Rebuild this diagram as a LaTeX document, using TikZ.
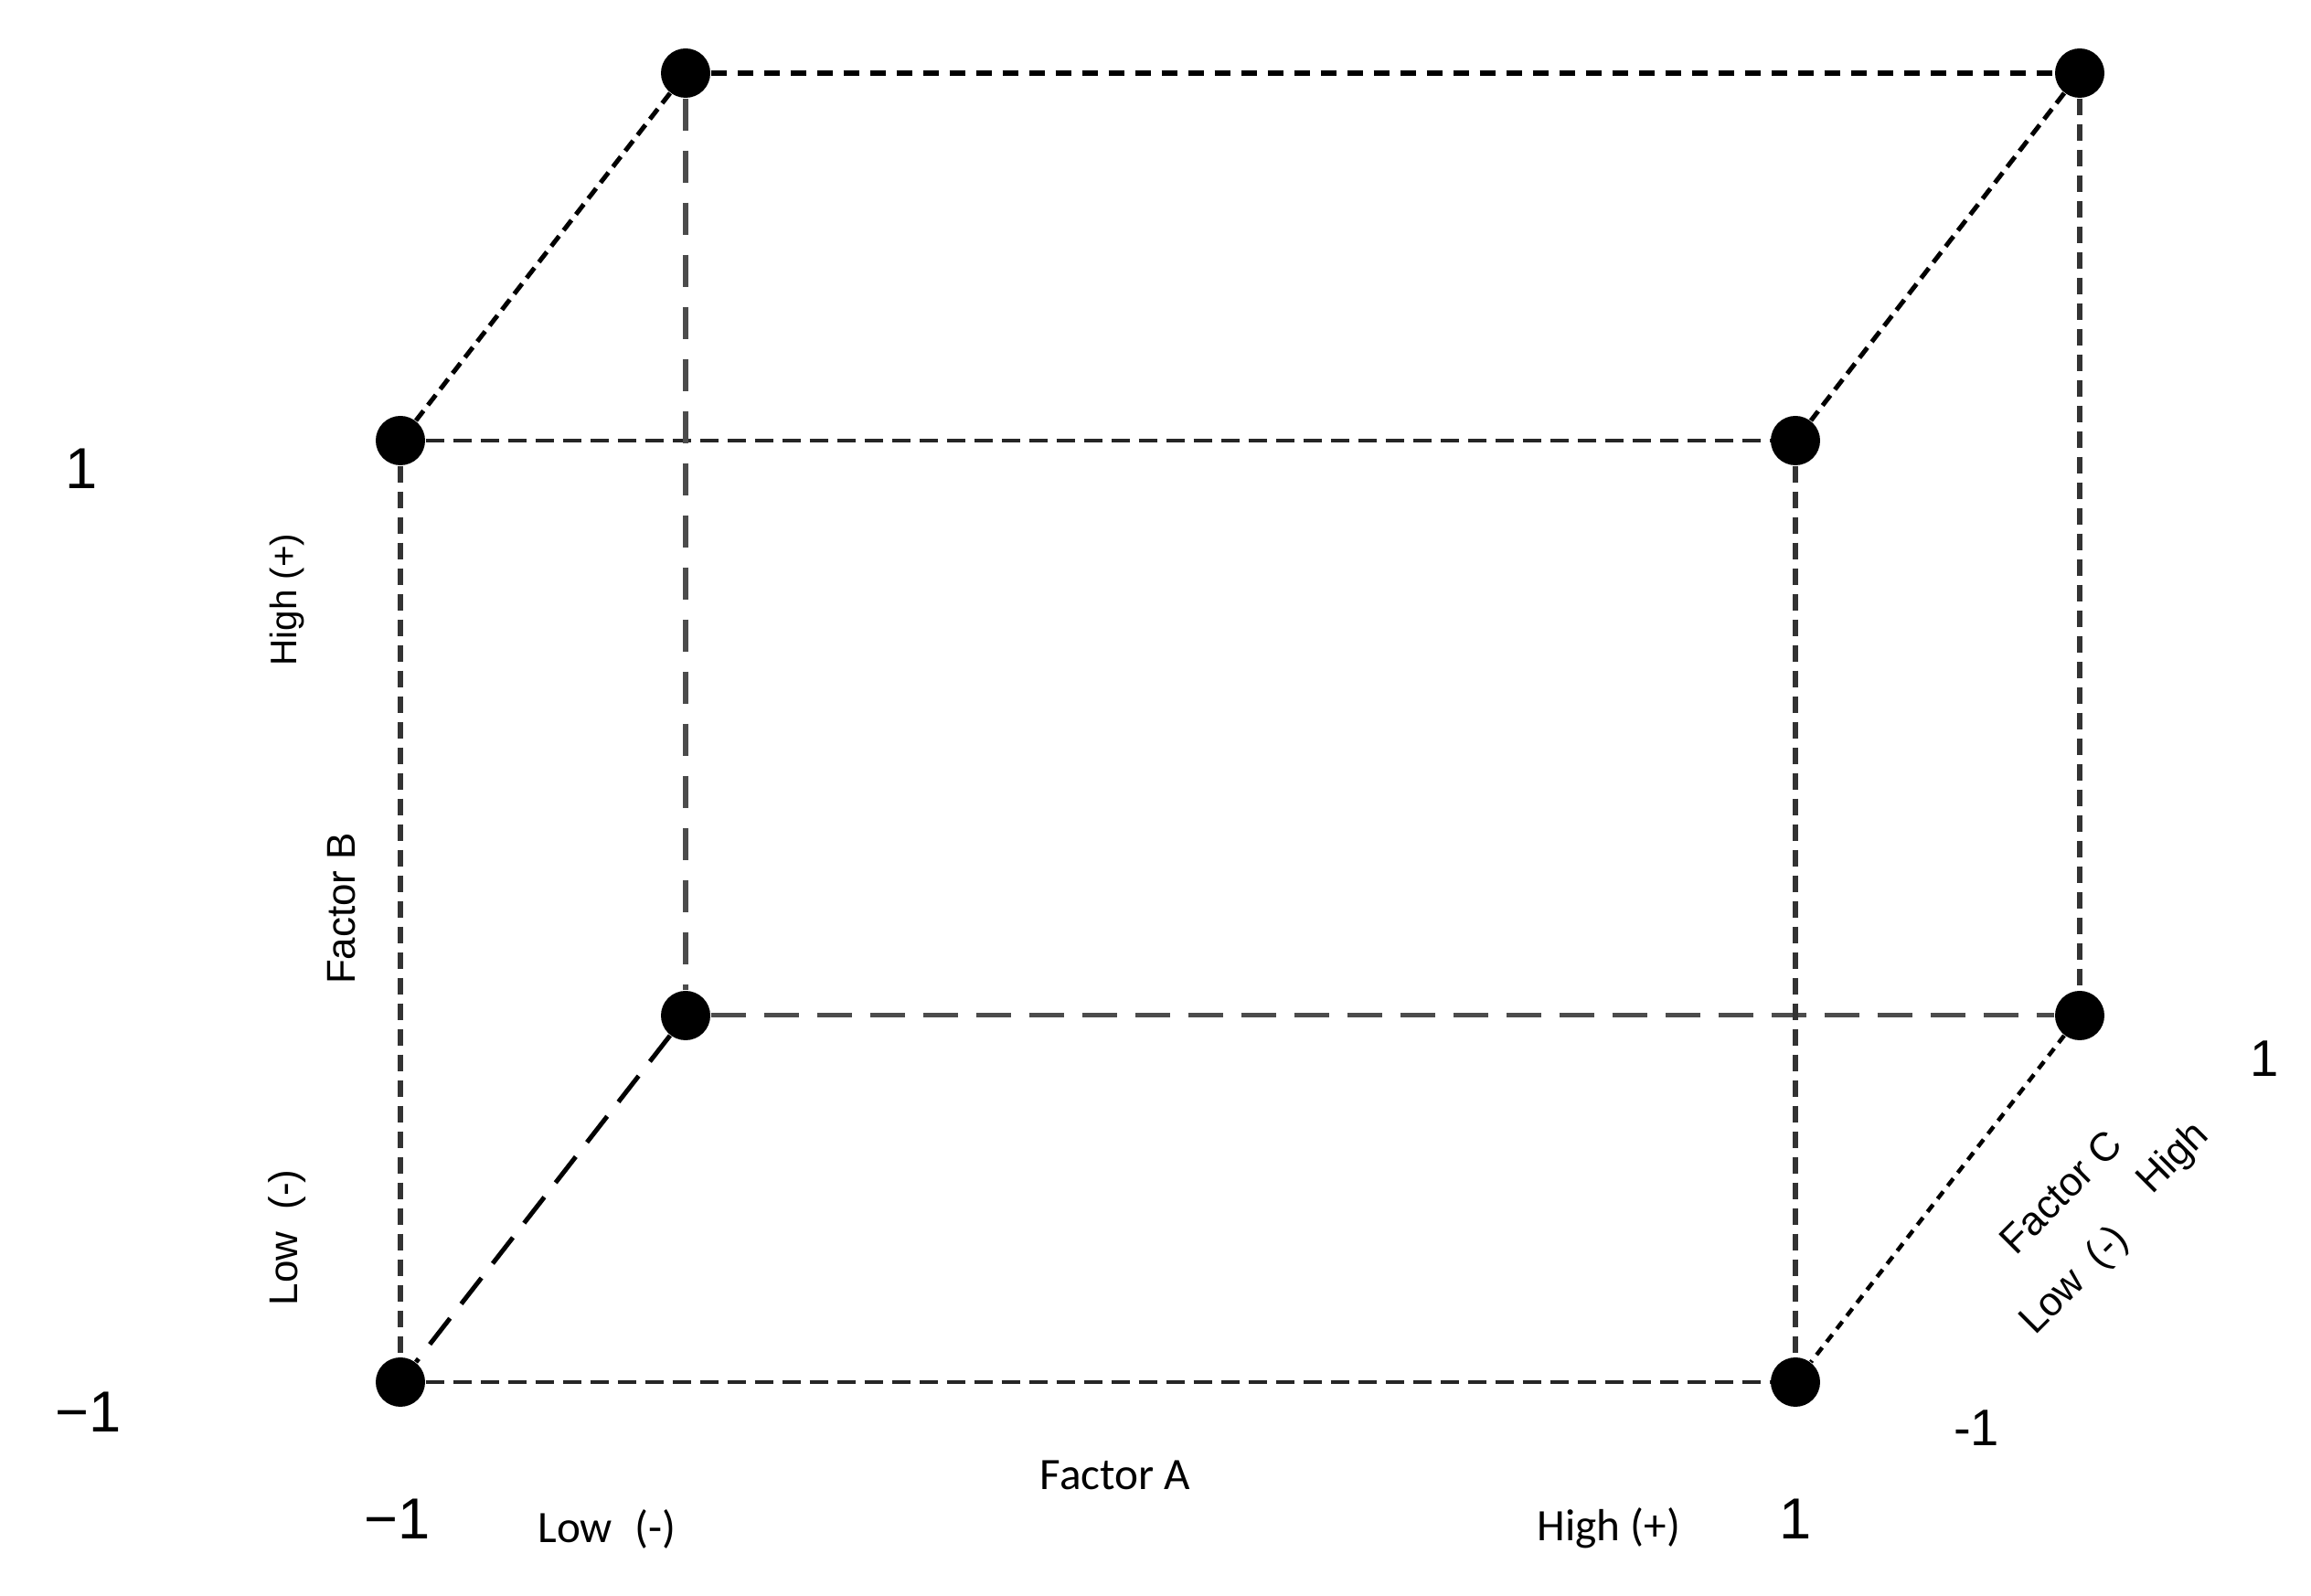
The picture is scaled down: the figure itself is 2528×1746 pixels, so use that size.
\documentclass[tikz,border=0pt]{standalone}
\usepackage{fontspec}
\setmainfont{Liberation Sans}
\newfontfamily\calfont{Carlito}
\begin{document}
\begin{tikzpicture}[x=0.1mm,y=-0.1mm,
  dot/.style={circle,fill=black,inner sep=0pt,minimum size=5.4mm},
  edgetop/.style={line width=0.6mm,black,dash pattern=on 1.7mm off 1.2mm},
  edgefine/.style={line width=0.42mm,black!85,dash pattern=on 2mm off 1mm},
  edgevert/.style={line width=0.55mm,black!80,dash pattern=on 1.8mm off 1mm},
  edgelong/.style={line width=0.5mm,black!70,dash pattern=on 3.8mm off 2mm},
  edgelongv/.style={line width=0.55mm,black!70,dash pattern=on 3.5mm off 2.2mm},
  diagshort/.style={line width=0.5mm,black,dash pattern=on 1.4mm off 0.8mm},
  diaglong/.style={line width=0.5mm,black,dash pattern=on 3.6mm off 2mm},
  diagtiny/.style={line width=0.45mm,black,dash pattern=on 1mm off 0.8mm},
  num/.style={inner sep=0pt,font=\fontsize{18}{20}\selectfont},
  numr/.style={inner sep=0pt,font=\fontsize{16}{18}\selectfont},
  lab/.style={inner sep=0pt,font=\fontsize{12.5}{14}\selectfont},
  labA/.style={inner sep=0pt,font=\calfont\fontsize{14}{16}\selectfont}]
\path[use as bounding box] (0,0) rectangle (2528,1746);
% corners
\node[dot] (btl) at (750,80) {};
\node[dot] (btr) at (2275,80) {};
\node[dot] (ftl) at (438,482) {};
\node[dot] (ftr) at (1964,482) {};
\node[dot] (bbl) at (750,1111) {};
\node[dot] (bbr) at (2275,1111) {};
\node[dot] (fbl) at (438,1512) {};
\node[dot] (fbr) at (1964,1512) {};
% edges
\draw[edgetop] (btl) -- (btr);
\draw[edgefine] (ftl) -- (ftr);
\draw[edgefine] (fbl) -- (fbr);
\draw[edgelong] (bbl) -- (bbr);
\draw[edgevert] (ftl) -- (fbl);
\draw[edgevert] (ftr) -- (fbr);
\draw[edgevert] (btr) -- (bbr);
\draw[edgelongv] (btl) -- (bbl);
\draw[diagshort] (btl) -- (ftl);
\draw[diagshort] (btr) -- (ftr);
\draw[diaglong] (bbl) -- (fbl);
\draw[diagtiny] (bbr) -- (fbr);
% left labels
\node[num] (bhi) at (89,513) {1};
\node[num] (blo) at (97,1545) {−1};
\node[lab,rotate=90,font=\fontsize{11.5}{13}\selectfont] (bhigh) at (314,656) {High (+)};
\node[lab,rotate=90] (bfac) at (374,994) {Factor B};
\node[lab,rotate=90] (blow) at (314,1354) {Low\hspace{0.55em}(-)};
% bottom labels
\node[labA] (afac) at (1220,1614) {Factor A};
\node[labA] (alow) at (664,1673) {Low\hspace{0.5em}(-)};
\node[labA] (ahigh) at (1760,1672) {High (+)};
\node[num] (alo) at (435,1662) {−1};
\node[num] (ahi) at (1964,1662) {1};
% right labels
\node[numr] (chi) at (2477,1158) {1};
\node[numr] (clo) at (2162,1562) {-1};
\node[lab,rotate=45] (cfac) at (2254,1304) {Factor C};
\node[lab,rotate=45] (chigh) at (2378,1268) {High};
\node[lab,rotate=45] (clow) at (2270,1402) {Low\hspace{0.5em}(-)};
\end{tikzpicture}
\end{document}
